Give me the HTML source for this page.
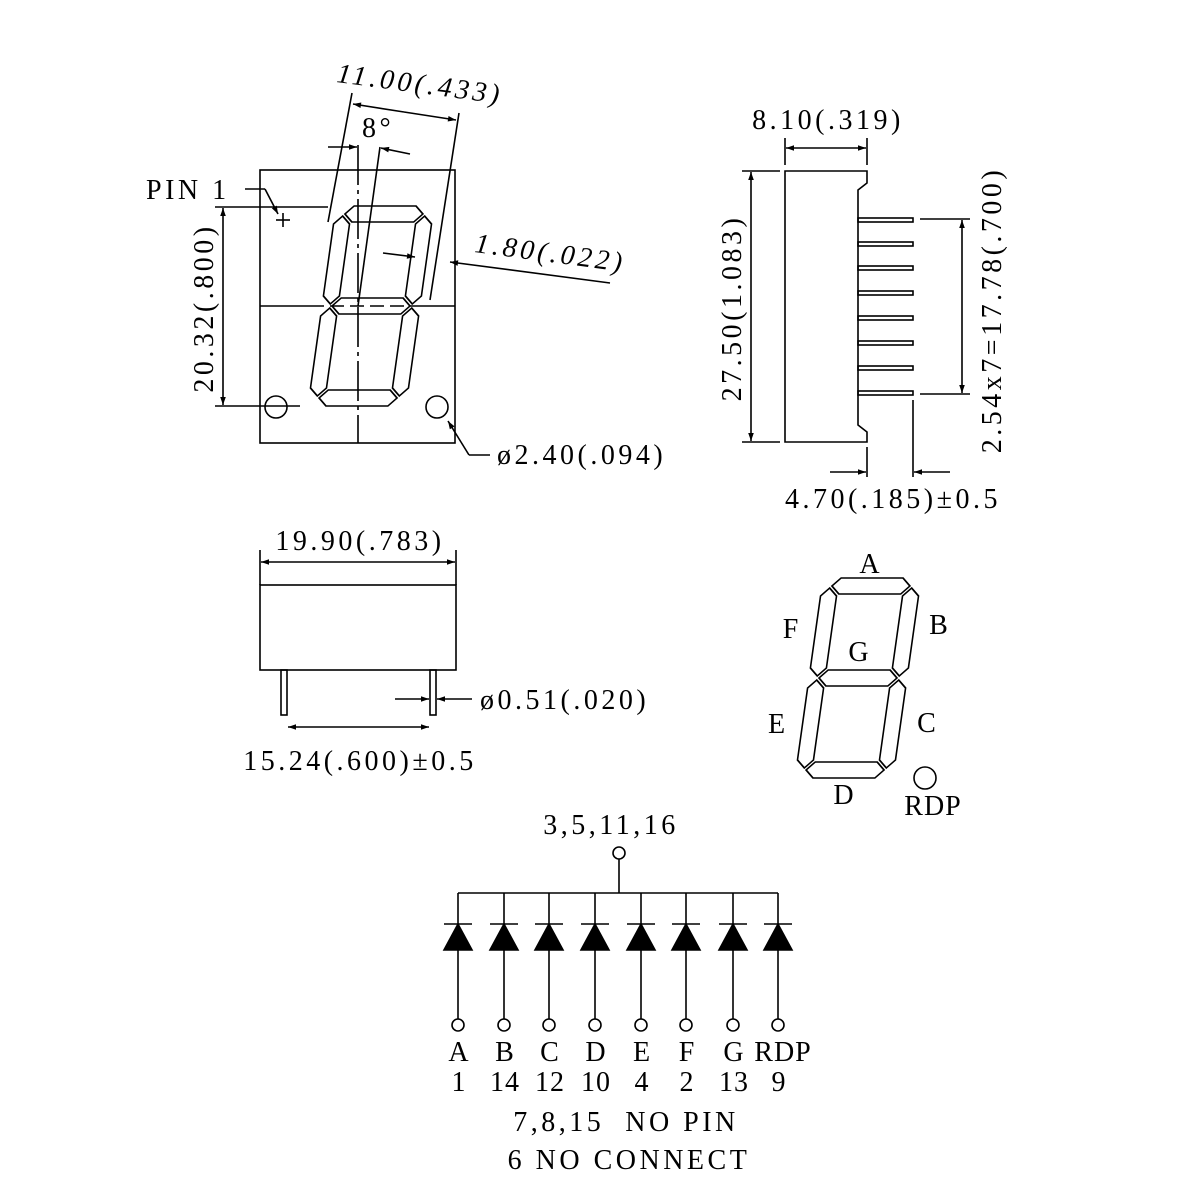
<!DOCTYPE html>
<html><head><style>
html,body{margin:0;padding:0;background:#fff}
svg{display:block}
text{font-family:"Liberation Serif",serif;font-size:28px;fill:#000;letter-spacing:3.5px}
text.s{letter-spacing:1px}
</style></head><body>
<svg width="1200" height="1200" viewBox="0 0 1200 1200" xmlns="http://www.w3.org/2000/svg">
<defs>
<marker id="ar" viewBox="0 0 10 10" refX="10" refY="5" markerWidth="20" markerHeight="8" markerUnits="userSpaceOnUse" orient="auto"><path d="M0,1.5L10,5L0,8.5z" fill="#000"/></marker>
<g id="digit" fill="none" stroke="#000" stroke-width="1.6" transform="translate(371,306) skewX(-8) translate(-371,-306)">
<polygon points="332,214 340,206 402,206 410,214 402,222 340,222"/>
<polygon points="322,224 330,216 338,224 338,296 330,304 322,296"/>
<polygon points="420,224 412,216 404,224 404,296 412,304 420,296"/>
<polygon points="332,306 340,298 402,298 410,306 402,314 340,314"/>
<polygon points="322,316 330,308 338,316 338,388 330,396 322,388"/>
<polygon points="420,316 412,308 404,316 404,388 412,396 420,388"/>
<polygon points="332,398 340,390 402,390 410,398 402,406 340,406"/>
</g>
</defs>
<g stroke="#000" stroke-width="1.6" fill="none">
<rect x="260" y="170" width="195" height="273"/>
<line x1="260" y1="306" x2="310" y2="306"/>
<line x1="412" y1="306" x2="455" y2="306"/>
<line x1="310" y1="306" x2="412" y2="306" stroke-dasharray="14,6"/>
<line x1="358" y1="145" x2="358" y2="443" stroke-dasharray="40,5,4,5"/>
<use href="#digit"/>
<circle cx="276" cy="407" r="11"/>
<circle cx="437" cy="407" r="11"/>
<line x1="490" y1="455" x2="469" y2="455"/>
<line x1="469" y1="455" x2="448" y2="421" marker-end="url(#ar)"/>
<line x1="215" y1="207" x2="328" y2="207"/>
<line x1="215" y1="406" x2="300" y2="406"/>
<line x1="223" y1="306" x2="223" y2="208" marker-end="url(#ar)"/>
<line x1="223" y1="306" x2="223" y2="405" marker-end="url(#ar)"/>
<line x1="352" y1="93" x2="328" y2="222"/>
<line x1="459" y1="113" x2="430" y2="300"/>
<line x1="404" y1="112" x2="353" y2="104" marker-end="url(#ar)"/>
<line x1="404" y1="112" x2="456" y2="120" marker-end="url(#ar)"/>
<line x1="328" y1="147" x2="357" y2="147" marker-end="url(#ar)"/>
<line x1="410" y1="154" x2="381" y2="148" marker-end="url(#ar)"/>
<line x1="380" y1="147" x2="358" y2="306"/>
<line x1="383" y1="253" x2="415" y2="257" marker-end="url(#ar)"/>
<line x1="610" y1="283" x2="450" y2="262" marker-end="url(#ar)"/>
<line x1="245" y1="189" x2="265" y2="189"/>
<line x1="265" y1="189" x2="278" y2="214" marker-end="url(#ar)"/>
<line x1="276" y1="220" x2="290" y2="220"/><line x1="283" y1="213" x2="283" y2="227"/>
<path d="M785,171 H867 V183 L858,190 V425 L867,432 V442 H785 Z"/>
<g>
<rect x="858" y="218" width="55" height="4"/><rect x="858" y="242" width="55" height="4"/>
<rect x="858" y="266" width="55" height="4"/><rect x="858" y="291" width="55" height="4"/>
<rect x="858" y="316" width="55" height="4"/><rect x="858" y="341" width="55" height="4"/>
<rect x="858" y="366" width="55" height="4"/><rect x="858" y="391" width="55" height="4"/>
</g>
<line x1="785" y1="138" x2="785" y2="165"/><line x1="867" y1="138" x2="867" y2="165"/>
<line x1="826" y1="148" x2="786" y2="148" marker-end="url(#ar)"/>
<line x1="826" y1="148" x2="866" y2="148" marker-end="url(#ar)"/>
<line x1="742" y1="171" x2="780" y2="171"/><line x1="742" y1="442" x2="780" y2="442"/>
<line x1="751" y1="306" x2="751" y2="172" marker-end="url(#ar)"/>
<line x1="751" y1="306" x2="751" y2="441" marker-end="url(#ar)"/>
<line x1="920" y1="219" x2="970" y2="219"/><line x1="920" y1="394" x2="970" y2="394"/>
<line x1="962" y1="306" x2="962" y2="220" marker-end="url(#ar)"/>
<line x1="962" y1="306" x2="962" y2="393" marker-end="url(#ar)"/>
<line x1="867" y1="447" x2="867" y2="477"/><line x1="913" y1="400" x2="913" y2="477"/>
<line x1="830" y1="472" x2="866" y2="472" marker-end="url(#ar)"/>
<line x1="950" y1="472" x2="914" y2="472" marker-end="url(#ar)"/>
<rect x="260" y="585" width="196" height="85"/>
<rect x="281" y="670" width="6" height="45"/>
<rect x="430" y="670" width="6" height="45"/>
<line x1="260" y1="550" x2="260" y2="585"/><line x1="456" y1="550" x2="456" y2="585"/>
<line x1="358" y1="562" x2="261" y2="562" marker-end="url(#ar)"/>
<line x1="358" y1="562" x2="455" y2="562" marker-end="url(#ar)"/>
<line x1="358" y1="727" x2="288" y2="727" marker-end="url(#ar)"/>
<line x1="358" y1="727" x2="429" y2="727" marker-end="url(#ar)"/>
<line x1="395" y1="699" x2="429" y2="699" marker-end="url(#ar)"/>
<line x1="472" y1="699" x2="437" y2="699" marker-end="url(#ar)"/>
<use href="#digit" transform="translate(487,372)"/>
<circle cx="925" cy="778" r="11"/>
<circle cx="619" cy="853" r="6"/>
<line x1="619" y1="859" x2="619" y2="893"/>
<line x1="458" y1="893" x2="778" y2="893"/>
</g>
<g stroke="#000" stroke-width="1.6" fill="none">
<g id="dio">
<line x1="458" y1="893" x2="458" y2="1019"/>
<line x1="444" y1="924" x2="472" y2="924"/>
<polygon points="458,924 444,950 472,950" fill="#000"/>
<circle cx="458" cy="1025" r="6" fill="#fff"/>
</g>
<use href="#dio" transform="translate(46,0)"/>
<use href="#dio" transform="translate(91,0)"/>
<use href="#dio" transform="translate(137,0)"/>
<use href="#dio" transform="translate(183,0)"/>
<use href="#dio" transform="translate(228,0)"/>
<use href="#dio" transform="translate(275,0)"/>
<use href="#dio" transform="translate(320,0)"/>
</g>
<text x="146" y="199">PIN 1</text>
<text transform="translate(336,82) rotate(7.5)" font-style="italic">11.00(.433)</text>
<text x="362" y="137">8°</text>
<text transform="translate(474,252) rotate(7.5)" font-style="italic">1.80(.022)</text>
<text transform="translate(213,308) rotate(-90)" text-anchor="middle">20.32(.800)</text>
<text x="497" y="464">ø2.40(.094)</text>
<text x="828" y="129" text-anchor="middle">8.10(.319)</text>
<text transform="translate(741,308) rotate(-90)" text-anchor="middle">27.50(1.083)</text>
<text transform="translate(1001,310) rotate(-90)" text-anchor="middle">2.54x7=17.78(.700)</text>
<text x="893" y="508" text-anchor="middle">4.70(.185)±0.5</text>
<text x="360" y="550" text-anchor="middle">19.90(.783)</text>
<text x="360" y="770" text-anchor="middle">15.24(.600)±0.5</text>
<text x="480" y="709">ø0.51(.020)</text>
<g class="s">
<text class="s" x="870" y="573" text-anchor="middle">A</text>
<text class="s" x="939" y="634" text-anchor="middle">B</text>
<text class="s" x="791" y="638" text-anchor="middle">F</text>
<text class="s" x="859" y="661" text-anchor="middle">G</text>
<text class="s" x="777" y="733" text-anchor="middle">E</text>
<text class="s" x="927" y="732" text-anchor="middle">C</text>
<text class="s" x="844" y="804" text-anchor="middle">D</text>
<text class="s" x="933" y="815" text-anchor="middle">RDP</text>
</g>
<text x="611" y="834" text-anchor="middle">3,5,11,16</text>
<g text-anchor="middle">
<text class="s" x="459" y="1061">A</text><text class="s" x="505" y="1061">B</text><text class="s" x="550" y="1061">C</text><text class="s" x="596" y="1061">D</text>
<text class="s" x="642" y="1061">E</text><text class="s" x="687" y="1061">F</text><text class="s" x="734" y="1061">G</text><text class="s" x="783" y="1061">RDP</text>
<text class="s" x="459" y="1091">1</text><text class="s" x="505" y="1091">14</text><text class="s" x="550" y="1091">12</text><text class="s" x="596" y="1091">10</text>
<text class="s" x="642" y="1091">4</text><text class="s" x="687" y="1091">2</text><text class="s" x="734" y="1091">13</text><text class="s" x="779" y="1091">9</text>
<text x="626" y="1131" xml:space="preserve">7,8,15  NO PIN</text>
<text x="629" y="1169">6 NO CONNECT</text>
</g>
</svg>
</body></html>
